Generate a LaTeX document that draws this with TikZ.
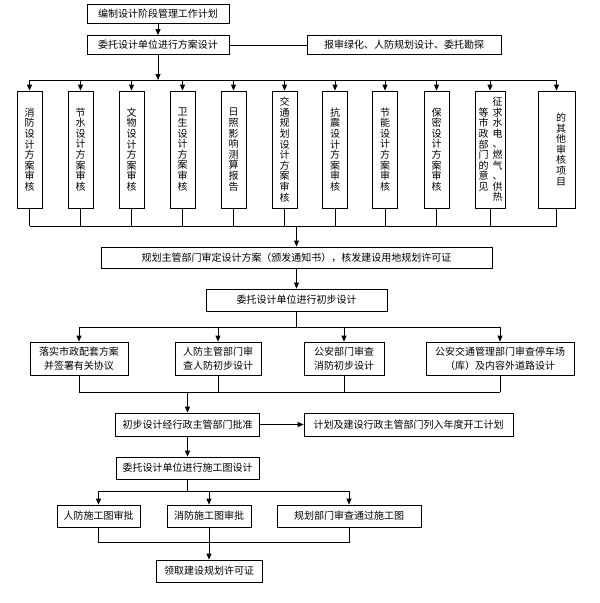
\documentclass[tikz,border=0pt]{standalone}
\usepackage{fontspec}
\setmainfont{Noto Sans CJK SC}
\usetikzlibrary{arrows.meta}
\begin{document}
\begin{tikzpicture}[x=1pt,y=-1pt,
  box/.style={draw, line width=0.8pt, inner sep=0pt, align=center, font=\fontsize{10}{13.5}\selectfont},
  vbox/.style={draw, line width=0.8pt, inner sep=0pt, minimum height=117pt},
  vtxt/.style={inner sep=0pt, align=center, font=\fontsize{10}{10.6}\selectfont},
  arr/.style={-{Triangle[length=6pt,width=5pt]}, line width=0.8pt},
  ln/.style={line width=0.8pt}]
\useasboundingbox (0,0) rectangle (600,603);
\fill[white] (0,0) rectangle (600,603);
% top
\node[box, minimum width=142pt, minimum height=19pt] (b1) at (158,13.5) {编制设计阶段管理工作计划};
\node[box, minimum width=142pt, minimum height=19pt] (b2) at (158,45) {委托设计单位进行方案设计};
\node[box, minimum width=194pt, minimum height=19pt] (b3) at (404,45) {报审绿化、人防规划设计、委托勘探};
% vertical boxes
\node[vbox, minimum width=25pt] (v1) at (29.5,149.5) {};
\node[vbox, minimum width=25pt] (v2) at (80.5,149.5) {};
\node[vbox, minimum width=25pt] (v3) at (131.5,149.5) {};
\node[vbox, minimum width=25pt] (v4) at (182.5,149.5) {};
\node[vbox, minimum width=25pt] (v5) at (233.5,149.5) {};
\node[vbox, minimum width=25pt] (v6) at (284.5,149.5) {};
\node[vbox, minimum width=25pt] (v7) at (335,149.5) {};
\node[vbox, minimum width=25pt] (v8) at (385,149.5) {};
\node[vbox, minimum width=25pt] (v9) at (436.5,149.5) {};
\node[vbox, minimum width=30pt] (v10) at (490,149.5) {};
\node[vbox, minimum width=37pt] (v11) at (556.5,149.5) {};
\node[vtxt] (t1) at (v1) {消\\防\\设\\计\\方\\案\\审\\核};
\node[vtxt] (t2) at (v2) {节\\水\\设\\计\\方\\案\\审\\核};
\node[vtxt] (t3) at (v3) {文\\物\\设\\计\\方\\案\\审\\核};
\node[vtxt] (t4) at (v4) {卫\\生\\设\\计\\方\\案\\审\\核};
\node[vtxt] (t5) at (v5) {日\\照\\影\\响\\测\\算\\报\\告};
\node[vtxt] (t6) at (v6) {交\\通\\规\\划\\设\\计\\方\\案\\审\\核};
\node[vtxt] (t7) at (v7) {抗\\震\\设\\计\\方\\案\\审\\核};
\node[vtxt] (t8) at (v8) {节\\能\\设\\计\\方\\案\\审\\核};
\node[vtxt] (t9) at (v9) {保\\密\\设\\计\\方\\案\\审\\核};
\node[vtxt] (t10a) at (497.5,149.5) {征\\求\\水\\电\\、\\燃\\气\\、\\供\\热};
\node[vtxt] (t10b) at (483.5,149.5) {等\\市\\政\\部\\门\\的\\意\\见};
\node[vtxt] (t11) at (561,149.5) {的\\其\\他\\审\\核\\项\\目};
% middle
\node[box, minimum width=391pt, minimum height=21pt] (g) at (296.5,257.5) {规划主管部门审定设计方案（颁发通知书），核发建设用地规划许可证};
\node[box, minimum width=181pt, minimum height=22pt] (p1) at (296.5,300) {委托设计单位进行初步设计};
\node[box, minimum width=98pt, minimum height=33pt] (a1) at (79,358.5) {落实市政配套方案\\并签署有关协议};
\node[box, minimum width=86pt, minimum height=33pt] (a2) at (218,358.5) {人防主管部门审\\查人防初步设计};
\node[box, minimum width=80pt, minimum height=33pt] (a3) at (344,358.5) {公安部门审查\\消防初步设计};
\node[box, minimum width=148pt, minimum height=33pt] (a4) at (500,358.5) {公安交通管理部门审查停车场\\（库）及内容外道路设计};
\node[box, minimum width=144pt, minimum height=23pt] (c1) at (187.5,424.5) {初步设计经行政主管部门批准};
\node[box, minimum width=209pt, minimum height=23pt] (c2) at (408.5,424.5) {计划及建设行政主管部门列入年度开工计划};
\node[box, minimum width=143pt, minimum height=22pt] (w1) at (187.5,468) {委托设计单位进行施工图设计};
\node[box, minimum width=83pt, minimum height=22pt] (r1) at (98.5,516) {人防施工图审批};
\node[box, minimum width=84pt, minimum height=22pt] (r2) at (209,516) {消防施工图审批};
\node[box, minimum width=144pt, minimum height=22pt] (r3) at (349,516) {规划部门审查通过施工图};
\node[box, minimum width=106pt, minimum height=22pt] (l1) at (209,571) {领取建设规划许可证};
% bus levels
\coordinate (ya) at (0,80);
\coordinate (yb) at (0,226);
\coordinate (yc) at (0,327);
\coordinate (yd) at (0,392);
\coordinate (ye) at (0,491);
\coordinate (yf) at (0,542);
% connectors top
\draw[arr] (b1) -- (b2);
\draw[ln] (b2) -- (b3);
\draw[arr] (b2.south) -- (b2.south |- ya);
\draw[ln] (v1.north |- ya) -- (v11.north |- ya);
\foreach \i in {1,...,11} {
  \draw[arr] (v\i.north |- ya) -- (v\i.north);
  \draw[ln] (v\i.south) -- (v\i.south |- yb);
}
\draw[ln] (v1.south |- yb) -- (v11.south |- yb);
\draw[arr] (g.north |- yb) -- (g.north);
\draw[arr] (g) -- (p1);
% preliminary design
\draw[ln] (p1.south) -- (p1.south |- yc);
\draw[ln] (a1.north |- yc) -- (a4.north |- yc);
\foreach \i in {1,...,4} {
  \draw[arr] (a\i.north |- yc) -- (a\i.north);
  \draw[ln] (a\i.south) -- (a\i.south |- yd);
}
\draw[ln] (a1.south |- yd) -- (a4.south |- yd);
\draw[arr] (c1.north |- yd) -- (c1.north);
\draw[arr] (c1) -- (c2);
\draw[arr] (c1) -- (w1);
% construction drawings
\draw[ln] (w1.south) -- (w1.south |- ye);
\draw[ln] (r1.north |- ye) -- (r3.north |- ye);
\foreach \i in {1,2,3} {
  \draw[arr] (r\i.north |- ye) -- (r\i.north);
}
\draw[ln] (r1.south) -- (r1.south |- yf) -- (r3.south |- yf) -- (r3.south);
\draw[arr] (r2) -- (l1);
\end{tikzpicture}
\end{document}
